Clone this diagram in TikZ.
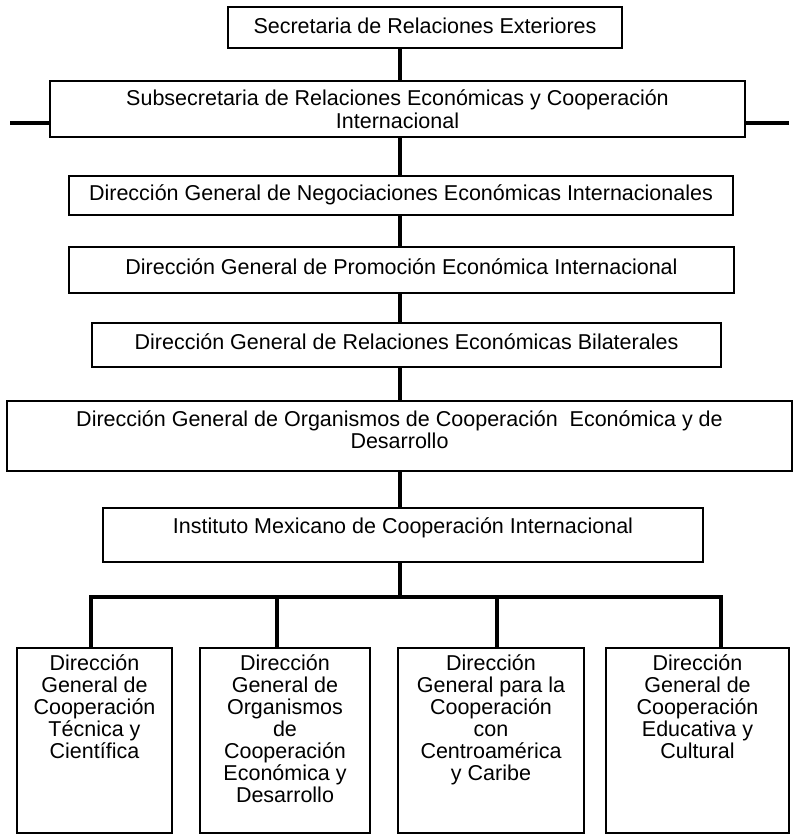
\documentclass[tikz,border=0pt]{standalone}
\usepackage{fontspec}
\setmainfont{Liberation Sans}
\newcommand\liftby[2]{\raisebox{#1}[\height][\depth]{#2}}
\newcommand\bottomtext[2]{\parbox[c][172pt][t]{#1}{\centering\fontsize{21.5}{22}\selectfont #2}}
\begin{document}
\begin{tikzpicture}[x=1pt,y=-1pt,
  box/.style={draw, line width=1.5pt, inner sep=0pt, align=center,
    font=\fontsize{21.5}{23}\selectfont},
  conn/.style={line width=3.2pt, line join=miter}]
\useasboundingbox (0,0) rectangle (794,835);
% top chain
\node[box, minimum width=394pt, minimum height=41pt] (b1) at (425,27.5)
  {\liftby{2pt}{Secretaria de Relaciones Exteriores}};
\node[box, minimum width=695pt, minimum height=56pt,
  font=\fontsize{21.5}{22.5}\selectfont] (b2) at (397.5,109)
  {Subsecretaria de Relaciones Económicas y Cooperación\\Internacional};
\node[box, minimum width=664pt, minimum height=39pt] (b3) at (401,195.5)
  {\liftby{1pt}{Dirección General de Negociaciones Económicas Internacionales}};
\node[box, minimum width=665pt, minimum height=46pt] (b4) at (401.5,270)
  {\liftby{3pt}{Dirección General de Promoción Económica Internacional}};
\node[box, minimum width=629pt, minimum height=44pt] (b5) at (406.5,345)
  {\liftby{3pt}{Dirección General de Relaciones Económicas Bilaterales}};
\node[box, minimum width=785pt, minimum height=70pt] (b6) at (399.5,436)
  {\liftby{6pt}{\parbox{770pt}{\centering\fontsize{21.5}{22}\selectfont
    Dirección General de Organismos de Cooperación~ Económica y de\\Desarrollo}}};
\node[box, minimum width=600pt, minimum height=54pt] (b7) at (403,535)
  {\liftby{7pt}{Instituto Mexicano de Cooperación Internacional}};
% bottom row
\node[box, minimum width=155pt, minimum height=185pt, anchor=north] (bA) at (94.5,647)
  {\bottomtext{149pt}{Dirección\\General de\\Cooperación\\Técnica y\\Científica}};
\node[box, minimum width=170pt, minimum height=185pt, anchor=north] (bB) at (285,647)
  {\bottomtext{164pt}{Dirección\\General de\\Organismos\\de\\Cooperación\\Económica y\\Desarrollo}};
\node[box, minimum width=186pt, minimum height=185pt, anchor=north] (bC) at (491,647)
  {\bottomtext{180pt}{Dirección\\General para la\\Cooperación\\con\\Centroamérica\\y Caribe}};
\node[box, minimum width=183pt, minimum height=185pt, anchor=north] (bD) at (697.5,647)
  {\bottomtext{177pt}{Dirección\\General de\\Cooperación\\Educativa y\\Cultural}};
% connectors
\coordinate (cx) at (400,0);
\coordinate (sl) at (10,123);
\coordinate (sr) at (789,123);
\coordinate (dA) at (91,597);
\coordinate (dB) at (277,597);
\coordinate (dC) at (497,597);
\coordinate (dD) at (721,597);
\draw[conn] (b1.south -| cx) -- (b2.north -| cx);
\draw[conn] (b2.south -| cx) -- (b3.north -| cx);
\draw[conn] (b3.south -| cx) -- (b4.north -| cx);
\draw[conn] (b4.south -| cx) -- (b5.north -| cx);
\draw[conn] (b5.south -| cx) -- (b6.north -| cx);
\draw[conn] (b6.south -| cx) -- (b7.north -| cx);
\draw[conn] (sl) -- (sl -| b2.west);
\draw[conn] (b2.east |- sr) -- (sr);
\draw[conn] (b7.south -| cx) -- (cx |- dA);
\draw[conn] (dA |- bA.north) -- (dA) -- (dD) -- (dD |- bD.north);
\draw[conn] (dB) -- (dB |- bB.north);
\draw[conn] (dC) -- (dC |- bC.north);
\end{tikzpicture}
\end{document}
